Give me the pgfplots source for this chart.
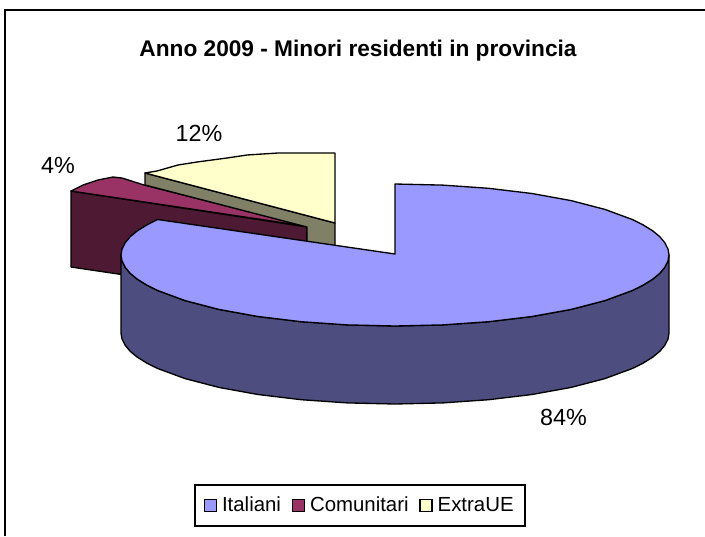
\documentclass[border=0pt]{standalone}
\usepackage{pgfplots}
\usepackage{fontspec}
\setmainfont{Liberation Sans}
\pgfplotsset{compat=1.18}
\definecolor{blutop}{HTML}{9999FF}
\definecolor{bluside}{HTML}{4D4D80}
\definecolor{martop}{HTML}{993366}
\definecolor{marside}{HTML}{4D1933}
\definecolor{yeltop}{HTML}{FFFFCC}
\definecolor{yelside}{HTML}{808066}
\begin{document}
\begin{tikzpicture}
\begin{axis}[
  scale only axis, width=528.75pt, height=402pt,
  xmin=0, xmax=705, ymin=0, ymax=536, y dir=reverse,
  axis lines=none,
  legend style={at={(axis cs:360,505.5)}, anchor=center, draw=black, line width=1pt,
    legend columns=3, font=\fontsize{15.3}{17}\selectfont,
    inner xsep=6.5pt, inner ysep=7pt,
    /tikz/every even column/.append style={column sep=6pt}},
  legend cell align=left,
  poly/.style={draw=black, line width=1pt, line join=round},
  sq/.style={legend image code/.code={\draw[##1] (0pt,-4.5pt) rectangle (9pt,4.5pt);
    \path[draw=none, fill=none] (9pt,0pt) -- (11.25pt,0pt);}},
]
% whole picture area, the hidden axis does not reserve it by itself
\path[use as bounding box] (axis cs:0,0) rectangle (axis cs:705,536);

% legend entries, in the reference's order
\addlegendimage{sq, fill=blutop, draw=black, line width=1pt}
\addlegendentry{Italiani}
\addlegendimage{sq, fill=martop, draw=black, line width=1pt}
\addlegendentry{Comunitari}
\addlegendimage{sq, fill=yeltop, draw=black, line width=1pt}
\addlegendentry{ExtraUE}

% chart frame
\addplot[forget plot, draw=black, line width=1.5pt] coordinates {(5,536) (5,10) (705,10)};

% Comunitari
\addplot[forget plot, poly, fill=marside] coordinates {
 (71,191) (307,227) (307,302) (71,267)} -- cycle;
\addplot[forget plot, poly, fill=martop] coordinates {
 (71,191) (83,185) (98,180) (113,177) (122,178) (144,185) (305,226)} -- cycle;

% ExtraUE
\addplot[forget plot, poly, fill=yelside] coordinates {
 (145,173) (335,223) (335,250) (307,250) (307,227) (145,185)} -- cycle;
\addplot[forget plot, poly, fill=yeltop] coordinates {
 (335,153) (278,153) (247,155) (227,158) (197,162) (178,165) (157,171) (145,173) (335,223)} -- cycle;

% Italiani
\addplot[forget plot, poly, fill=bluside] coordinates {
 (669,255) (668,261) (664.8,267.3) (659.7,273.4) (652.5,279.3) (643.3,285) (632.3,290.5)
 (604.9,300.6) (571.1,309.4) (532,316.5) (488.7,321.7) (442.6,324.9) (395,326)
 (347.4,324.9) (301.3,321.7) (258,316.5) (218.9,309.4) (185.1,300.6) (157.7,290.5)
 (146.7,285) (137.5,279.3) (130.3,273.4) (125.2,267.3) (122,261) (121,255)
 (121,333) (122,339) (125.2,345.3) (130.3,351.4) (137.5,357.3) (146.7,363) (157.7,368.5)
 (185.1,378.6) (218.9,387.4) (258,394.5) (301.3,399.7) (347.4,402.9) (395,404)
 (442.6,402.9) (488.7,399.7) (532,394.5) (571.1,387.4) (604.9,378.6) (632.3,368.5)
 (643.3,363) (652.5,357.3) (659.7,351.4) (664.8,345.3) (668,339) (669,333)} -- cycle;
\addplot[forget plot, poly, fill=blutop] coordinates {
 (395,184) (442.6,185.1) (488.7,188.3) (532,193.5) (571.1,200.6) (604.9,209.4) (632.3,219.5)
 (643.3,225) (652.5,230.7) (659.7,236.6) (664.8,242.7) (668,249) (669,255)
 (668,261) (664.8,267.3) (659.7,273.4) (652.5,279.3) (643.3,285) (632.3,290.5)
 (604.9,300.6) (571.1,309.4) (532,316.5) (488.7,321.7) (442.6,324.9) (395,326)
 (347.4,324.9) (301.3,321.7) (258,316.5) (218.9,309.4) (185.1,300.6) (157.7,290.5)
 (146.7,285) (137.5,279.3) (130.3,273.4) (125.2,267.3) (122,261) (121,255)
 (122,249) (125.2,242.7) (130.3,236.6) (137.5,230.7) (146.7,225) (157.7,219.5)
 (395,254)} -- cycle;

\node[font=\bfseries\fontsize{17}{20}\selectfont] at (axis cs:358,51) {Anno 2009 - Minori residenti in provincia};
\node[font=\fontsize{17.5}{20}\selectfont] at (axis cs:199,133) {12\%};
\node[font=\fontsize{17.5}{20}\selectfont] at (axis cs:58,165) {4\%};
\node[font=\fontsize{17.5}{20}\selectfont] at (axis cs:563.5,417) {84\%};
\end{axis}
\end{tikzpicture}
\end{document}
